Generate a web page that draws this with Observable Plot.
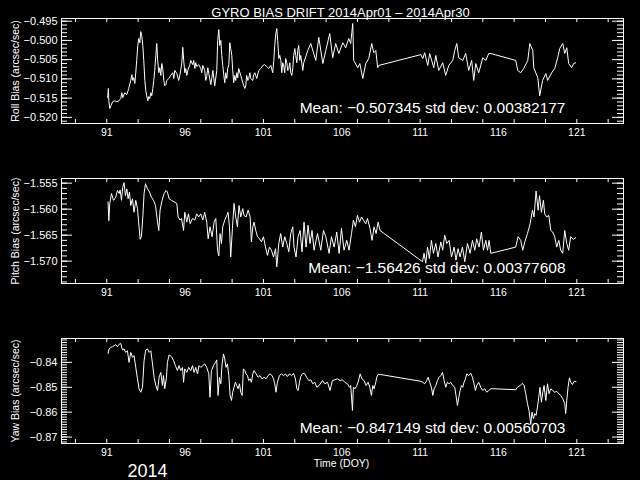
<!DOCTYPE html>
<html>
<head>
<meta charset="utf-8">
<script src="https://cdn.jsdelivr.net/npm/d3@7"></script>
<script src="https://cdn.jsdelivr.net/npm/@observablehq/plot@0.6"></script>
<style>
  html, body { margin: 0; padding: 0; background: #000; }
  #chart { width: 640px; height: 480px; overflow: hidden; }
  #chart svg { display: block; }
</style>
</head>
<body>
<div id="chart"></div>
<script>
// ---------- data ----------
const title = "GYRO BIAS DRIFT 2014Apr01 \u2013 2014Apr30";
const xLabel = "Time (DOY)";
const yearLabel = "2014";
const xTickLabels = [91, 96, 101, 106, 111, 116, 121];
const xTickMarks = [89, 91, 93, 95, 97, 99, 101, 103, 105, 107, 109, 111, 113, 115, 117, 119, 121, 123];
const xDomain = [88.11, 123.98];

const rollLabel = "Roll Bias (arcsec/sec)";
const rollMeanText = "Mean: \u22120.507345 std dev: 0.00382177";
const rollDomain = [-0.5216, -0.4943];
const rollTicks = [-0.520, -0.515, -0.510, -0.505, -0.500, -0.495];
const rollDay = [91.06,91.10,91.13,91.19,91.26,91.38,91.51,91.64,91.77,91.89,91.96,92.02,92.15,92.28,92.40,92.53,92.60,92.66,92.72,92.79,92.85,92.91,92.98,93.04,93.11,93.17,93.23,93.30,93.36,93.43,93.49,93.55,93.62,93.68,93.74,93.81,93.87,93.94,94.00,94.06,94.13,94.19,94.25,94.32,94.38,94.45,94.51,94.57,94.64,94.70,94.77,94.83,94.96,95.08,95.21,95.28,95.34,95.47,95.59,95.66,95.72,95.79,95.85,95.91,95.98,96.04,96.11,96.17,96.30,96.36,96.49,96.55,96.62,96.68,96.74,96.87,97.00,97.06,97.13,97.25,97.32,97.38,97.45,97.51,97.64,97.70,97.77,97.89,98.02,98.08,98.15,98.21,98.28,98.34,98.40,98.47,98.53,98.59,98.66,98.72,98.79,98.85,98.91,98.98,99.04,99.10,99.17,99.23,99.30,99.36,99.42,99.55,99.68,99.81,99.87,99.93,100.00,100.06,100.13,100.19,100.32,100.38,100.45,100.57,100.70,100.83,100.96,101.08,101.21,101.34,101.47,101.59,101.66,101.72,101.79,101.85,101.91,101.98,102.04,102.11,102.17,102.23,102.30,102.36,102.42,102.49,102.55,102.62,102.68,102.74,102.81,102.87,102.93,103.00,103.06,103.13,103.19,103.25,103.32,103.38,103.51,103.57,103.83,104.02,104.34,104.53,104.79,104.98,105.23,105.42,105.61,105.81,106.06,106.25,106.44,106.57,106.70,106.76,107.02,107.15,107.34,107.53,107.72,107.91,108.04,108.17,108.29,108.36,111.04,111.17,111.29,111.49,111.61,111.87,112.00,112.19,112.44,112.63,112.83,113.08,113.21,113.34,113.46,113.72,113.91,114.10,114.29,114.42,114.55,114.74,115.00,115.19,115.38,115.51,117.10,117.23,117.42,117.61,117.87,118.00,118.19,118.25,118.51,118.63,118.82,119.02,119.14,119.40,119.59,119.78,119.91,120.10,120.23,120.36,120.48,120.67,120.80,120.93];
const rollBias = [-0.5149,-0.5125,-0.5157,-0.5177,-0.5170,-0.5159,-0.5157,-0.5159,-0.5157,-0.5151,-0.5136,-0.5149,-0.5136,-0.5141,-0.5125,-0.5104,-0.5089,-0.5104,-0.5097,-0.5112,-0.5084,-0.5052,-0.5013,-0.4995,-0.5006,-0.4977,-0.4987,-0.5013,-0.5052,-0.5104,-0.5131,-0.5144,-0.5157,-0.5146,-0.5151,-0.5136,-0.5144,-0.5125,-0.5104,-0.5078,-0.5039,-0.5008,-0.5052,-0.5084,-0.5071,-0.5091,-0.5060,-0.5073,-0.5104,-0.5118,-0.5115,-0.5104,-0.5099,-0.5091,-0.5084,-0.5099,-0.5078,-0.5086,-0.5104,-0.5091,-0.5078,-0.5058,-0.5018,-0.5052,-0.5084,-0.5073,-0.5091,-0.5078,-0.5063,-0.5052,-0.5063,-0.5052,-0.5073,-0.5058,-0.5068,-0.5063,-0.5073,-0.5084,-0.5065,-0.5078,-0.5104,-0.5094,-0.5071,-0.5086,-0.5115,-0.5099,-0.5078,-0.5118,-0.5078,-0.5000,-0.4972,-0.5013,-0.5000,-0.5039,-0.5065,-0.5091,-0.5110,-0.5084,-0.5099,-0.5073,-0.5063,-0.5006,-0.5021,-0.5039,-0.5078,-0.5110,-0.5091,-0.5104,-0.5084,-0.5097,-0.5073,-0.5091,-0.5110,-0.5125,-0.5118,-0.5091,-0.5104,-0.5099,-0.5084,-0.5099,-0.5104,-0.5089,-0.5084,-0.5099,-0.5078,-0.5073,-0.5065,-0.5063,-0.5068,-0.5073,-0.5065,-0.5084,-0.5052,-0.5013,-0.4982,-0.4969,-0.5000,-0.5047,-0.5039,-0.5052,-0.5084,-0.5058,-0.5068,-0.5084,-0.5047,-0.5058,-0.5078,-0.5073,-0.5058,-0.5084,-0.5091,-0.5073,-0.5039,-0.5021,-0.5039,-0.5058,-0.5026,-0.5013,-0.5052,-0.5039,-0.5078,-0.5058,-0.5026,-0.5008,-0.5052,-0.4992,-0.5060,-0.5026,-0.4982,-0.5045,-0.5008,-0.5034,-0.5006,-0.5019,-0.4995,-0.5008,-0.4956,-0.5052,-0.5071,-0.5060,-0.5099,-0.5060,-0.5047,-0.5008,-0.5032,-0.5026,-0.5071,-0.5065,-0.5037,-0.5047,-0.5032,-0.5065,-0.5034,-0.5071,-0.5039,-0.5078,-0.5058,-0.5091,-0.5065,-0.5052,-0.5026,-0.5008,-0.5045,-0.5052,-0.5034,-0.5078,-0.5052,-0.5104,-0.5060,-0.5084,-0.5045,-0.5052,-0.5034,-0.5034,-0.5052,-0.5078,-0.5084,-0.5073,-0.5052,-0.5008,-0.5026,-0.5071,-0.5097,-0.5144,-0.5104,-0.5086,-0.5104,-0.5084,-0.5073,-0.5045,-0.5021,-0.5008,-0.5034,-0.5019,-0.5060,-0.5071,-0.5060,-0.5058];

const pitchLabel = "Pitch Bias (arcsec/sec)";
const pitchMeanText = "Mean: \u22121.56426 std dev: 0.00377608";
const pitchDomain = [-1.5743, -1.5541];
const pitchTicks = [-1.570, -1.565, -1.560, -1.555];
const pitchDay = [91.08,91.13,91.19,91.30,91.43,91.57,91.68,91.79,91.85,91.94,92.02,92.10,92.19,92.28,92.36,92.45,92.53,92.64,92.74,92.85,92.96,93.06,93.13,93.21,93.30,93.38,93.47,93.60,93.73,93.85,93.98,94.11,94.24,94.32,94.40,94.53,94.66,94.78,94.87,94.98,95.13,95.30,95.47,95.55,95.68,95.77,95.90,95.98,96.11,96.21,96.32,96.47,96.62,96.74,96.87,97.00,97.13,97.25,97.38,97.47,97.59,97.72,97.85,97.96,98.07,98.15,98.23,98.32,98.40,98.53,98.66,98.74,98.83,98.91,99.02,99.12,99.23,99.34,99.44,99.55,99.68,99.76,99.89,100.02,100.15,100.23,100.32,100.40,100.51,100.62,100.75,100.87,101.00,101.13,101.26,101.38,101.51,101.64,101.77,101.85,101.98,102.10,102.23,102.36,102.49,102.62,102.74,102.87,102.95,103.08,103.21,103.34,103.46,103.59,103.72,103.85,103.97,104.10,104.23,104.45,104.66,104.83,104.98,105.19,105.34,105.51,105.68,105.83,105.98,106.14,106.32,106.46,106.62,106.74,106.87,107.00,107.13,107.26,107.38,107.53,107.64,107.80,107.93,108.06,108.19,108.32,108.44,111.15,111.25,111.36,111.47,111.59,111.72,111.85,112.00,112.14,112.32,112.44,112.57,112.70,112.85,113.00,113.17,113.29,113.42,113.55,113.70,113.85,114.02,114.19,114.34,114.49,114.61,114.76,114.91,115.04,115.19,115.30,115.40,115.51,117.10,117.25,117.42,117.55,117.68,117.85,118.02,118.17,118.27,118.40,118.53,118.62,118.74,118.87,118.95,119.08,119.21,119.34,119.46,119.59,119.72,119.85,119.97,120.10,120.23,120.36,120.48,120.61,120.78,120.93];
const pitchBias = [-1.5586,-1.5622,-1.5589,-1.5570,-1.5583,-1.5577,-1.5564,-1.5570,-1.5563,-1.5583,-1.5558,-1.5549,-1.5574,-1.5561,-1.5580,-1.5567,-1.5593,-1.5580,-1.5606,-1.5583,-1.5599,-1.5634,-1.5658,-1.5653,-1.5615,-1.5570,-1.5551,-1.5561,-1.5567,-1.5577,-1.5583,-1.5593,-1.5625,-1.5641,-1.5602,-1.5583,-1.5570,-1.5564,-1.5567,-1.5580,-1.5583,-1.5586,-1.5589,-1.5615,-1.5621,-1.5618,-1.5641,-1.5606,-1.5625,-1.5609,-1.5628,-1.5618,-1.5621,-1.5609,-1.5615,-1.5609,-1.5621,-1.5606,-1.5625,-1.5657,-1.5634,-1.5653,-1.5625,-1.5618,-1.5679,-1.5690,-1.5647,-1.5666,-1.5634,-1.5621,-1.5612,-1.5606,-1.5634,-1.5692,-1.5637,-1.5589,-1.5615,-1.5634,-1.5593,-1.5615,-1.5599,-1.5612,-1.5615,-1.5602,-1.5615,-1.5663,-1.5634,-1.5625,-1.5641,-1.5653,-1.5657,-1.5663,-1.5653,-1.5673,-1.5689,-1.5673,-1.5679,-1.5692,-1.5676,-1.5711,-1.5666,-1.5647,-1.5673,-1.5653,-1.5666,-1.5682,-1.5647,-1.5634,-1.5673,-1.5692,-1.5653,-1.5641,-1.5682,-1.5625,-1.5673,-1.5631,-1.5666,-1.5641,-1.5679,-1.5647,-1.5679,-1.5641,-1.5653,-1.5685,-1.5653,-1.5673,-1.5644,-1.5685,-1.5637,-1.5679,-1.5660,-1.5679,-1.5647,-1.5621,-1.5634,-1.5612,-1.5625,-1.5615,-1.5621,-1.5628,-1.5618,-1.5637,-1.5660,-1.5634,-1.5647,-1.5625,-1.5641,-1.5701,-1.5685,-1.5704,-1.5673,-1.5695,-1.5660,-1.5685,-1.5666,-1.5692,-1.5663,-1.5679,-1.5650,-1.5666,-1.5660,-1.5692,-1.5673,-1.5698,-1.5676,-1.5692,-1.5673,-1.5701,-1.5666,-1.5685,-1.5660,-1.5679,-1.5657,-1.5673,-1.5644,-1.5679,-1.5660,-1.5679,-1.5660,-1.5685,-1.5673,-1.5653,-1.5660,-1.5679,-1.5663,-1.5647,-1.5628,-1.5602,-1.5615,-1.5565,-1.5602,-1.5574,-1.5606,-1.5583,-1.5609,-1.5615,-1.5612,-1.5641,-1.5644,-1.5653,-1.5673,-1.5660,-1.5679,-1.5685,-1.5641,-1.5666,-1.5679,-1.5653,-1.5658,-1.5655];

const yawLabel = "Yaw Bias (arcsec/sec)";
const yawMeanText = "Mean: \u22120.847149 std dev: 0.00560703";
const yawDomain = [-0.8726, -0.8304];
const yawTicks = [-0.87, -0.86, -0.85, -0.84];
const yawDay = [91.08,91.15,91.26,91.36,91.47,91.57,91.68,91.79,91.89,92.00,92.10,92.21,92.32,92.42,92.53,92.64,92.74,92.85,92.96,93.06,93.17,93.28,93.38,93.49,93.60,93.70,93.81,93.92,94.02,94.13,94.24,94.34,94.45,94.55,94.62,94.70,94.81,94.87,94.98,95.13,95.26,95.38,95.51,95.61,95.72,95.83,95.90,95.98,96.11,96.23,96.36,96.47,96.57,96.68,96.79,96.89,97.00,97.13,97.25,97.38,97.51,97.59,97.68,97.81,97.94,98.02,98.10,98.19,98.28,98.36,98.45,98.53,98.61,98.70,98.79,98.87,98.96,99.04,99.12,99.21,99.30,99.38,99.47,99.55,99.64,99.72,99.81,99.89,99.98,100.06,100.15,100.23,100.32,100.40,100.53,100.66,100.78,100.91,101.04,101.17,101.29,101.42,101.55,101.64,101.72,101.80,101.89,102.02,102.15,102.28,102.40,102.53,102.66,102.79,102.92,103.04,103.13,103.21,103.30,103.38,103.51,103.64,103.76,103.89,104.02,104.15,104.28,104.40,104.55,104.77,104.91,105.09,105.25,105.40,105.55,105.72,105.89,106.04,106.19,106.36,106.49,106.57,106.68,106.74,106.85,106.96,107.04,107.17,107.29,107.42,107.55,107.68,107.79,107.89,107.98,108.06,108.17,108.23,108.31,108.49,111.04,111.17,111.29,111.42,111.51,111.61,111.72,111.81,111.89,112.00,112.11,112.21,112.32,112.43,112.53,112.64,112.74,112.85,112.95,113.08,113.21,113.29,113.38,113.47,113.55,113.64,113.72,113.80,113.89,113.98,114.10,114.23,114.34,114.44,114.53,114.61,114.74,114.87,115.00,115.12,115.25,115.38,115.51,115.72,117.10,117.21,117.38,117.53,117.64,117.74,117.85,117.95,118.06,118.14,118.23,118.32,118.40,118.49,118.57,118.65,118.74,118.83,118.91,119.02,119.13,119.23,119.34,119.46,119.59,119.72,119.85,119.97,120.10,120.23,120.29,120.36,120.44,120.53,120.61,120.72,120.83,120.95];
const yawBias = [-0.8364,-0.8346,-0.8340,-0.8337,-0.8333,-0.8329,-0.8337,-0.8327,-0.8324,-0.8350,-0.8346,-0.8360,-0.8353,-0.8400,-0.8360,-0.8380,-0.8373,-0.8420,-0.8466,-0.8506,-0.8520,-0.8500,-0.8393,-0.8350,-0.8346,-0.8360,-0.8353,-0.8406,-0.8460,-0.8493,-0.8513,-0.8460,-0.8440,-0.8493,-0.8453,-0.8506,-0.8460,-0.8400,-0.8370,-0.8377,-0.8393,-0.8413,-0.8433,-0.8413,-0.8433,-0.8420,-0.8480,-0.8426,-0.8440,-0.8420,-0.8433,-0.8413,-0.8440,-0.8420,-0.8446,-0.8413,-0.8420,-0.8413,-0.8406,-0.8420,-0.8446,-0.8540,-0.8433,-0.8413,-0.8400,-0.8390,-0.8533,-0.8460,-0.8486,-0.8406,-0.8366,-0.8386,-0.8420,-0.8406,-0.8453,-0.8533,-0.8553,-0.8520,-0.8500,-0.8480,-0.8493,-0.8506,-0.8486,-0.8520,-0.8533,-0.8426,-0.8433,-0.8446,-0.8453,-0.8473,-0.8466,-0.8480,-0.8446,-0.8433,-0.8446,-0.8460,-0.8453,-0.8466,-0.8460,-0.8466,-0.8453,-0.8446,-0.8453,-0.8466,-0.8486,-0.8520,-0.8480,-0.8453,-0.8446,-0.8453,-0.8446,-0.8457,-0.8446,-0.8453,-0.8444,-0.8466,-0.8506,-0.8513,-0.8480,-0.8457,-0.8444,-0.8446,-0.8460,-0.8473,-0.8470,-0.8486,-0.8480,-0.8500,-0.8493,-0.8473,-0.8486,-0.8480,-0.8513,-0.8473,-0.8470,-0.8466,-0.8473,-0.8470,-0.8480,-0.8486,-0.8500,-0.8493,-0.8593,-0.8500,-0.8506,-0.8493,-0.8480,-0.8446,-0.8466,-0.8473,-0.8493,-0.8480,-0.8500,-0.8533,-0.8493,-0.8506,-0.8480,-0.8460,-0.8449,-0.8449,-0.8476,-0.8480,-0.8486,-0.8473,-0.8460,-0.8480,-0.8500,-0.8533,-0.8506,-0.8493,-0.8473,-0.8460,-0.8453,-0.8440,-0.8473,-0.8500,-0.8480,-0.8486,-0.8480,-0.8493,-0.8500,-0.8533,-0.8573,-0.8540,-0.8513,-0.8493,-0.8500,-0.8480,-0.8466,-0.8446,-0.8453,-0.8444,-0.8460,-0.8486,-0.8513,-0.8493,-0.8480,-0.8500,-0.8513,-0.8506,-0.8520,-0.8513,-0.8506,-0.8506,-0.8510,-0.8500,-0.8493,-0.8484,-0.8493,-0.8526,-0.8566,-0.8593,-0.8649,-0.8600,-0.8626,-0.8606,-0.8613,-0.8580,-0.8540,-0.8500,-0.8560,-0.8520,-0.8493,-0.8553,-0.8486,-0.8526,-0.8506,-0.8513,-0.8520,-0.8516,-0.8526,-0.8533,-0.8546,-0.8566,-0.8606,-0.8553,-0.8500,-0.8462,-0.8480,-0.8489,-0.8476,-0.8477];

// ---------- drawing ----------
const FONT = "'Liberation Sans', Arial, sans-serif";
const W = 640, H = 160, ML = 61, MR = 17, MT = 18, MB = 37;
const FW = W - ML - MR, FH = H - MT - MB;

function minorTicks(domain, step) {
  const lo = Math.ceil(domain[0] / step - 1e-9), hi = Math.floor(domain[1] / step + 1e-9);
  return d3.range(lo, hi + 1).map(i => i * step);
}

function panel({days, vals, yDomain, majors, fmt, minorStep, label, meanText, extra = []}) {
  const data = days.map((d, i) => ({day: d, v: vals[i]}));
  const minors = minorTicks(yDomain, minorStep);
  return Plot.plot({
    width: W, height: H,
    marginLeft: ML, marginRight: MR, marginTop: MT, marginBottom: MB,
    style: {background: "#000", color: "#fff", fontFamily: FONT, fontSize: "10.5px", overflow: "visible"},
    x: {domain: xDomain},
    y: {domain: yDomain},
    marks: [
      Plot.ruleY(minors, {insetRight: FW - 6, stroke: "#fff"}),
      Plot.ruleY(minors, {insetLeft: FW - 6, stroke: "#fff"}),
      Plot.ruleY(majors, {insetRight: FW - 11, stroke: "#fff"}),
      Plot.ruleY(majors, {insetLeft: FW - 11, stroke: "#fff"}),
      Plot.ruleX(xTickMarks, {insetBottom: FH - 4, stroke: "#fff"}),
      Plot.ruleX(xTickMarks, {insetTop: FH - 4, stroke: "#fff"}),
      Plot.axisY(majors, {anchor: "left", tickSize: 0, tickPadding: 4, tickFormat: fmt, label: null, fontSize: 11}),
      Plot.axisX(xTickLabels, {anchor: "bottom", tickSize: 0, tickPadding: 5, tickFormat: d => String(d), label: null, fontSize: 10.5}),
      Plot.text([label], {frameAnchor: "left", textAnchor: "middle", rotate: -90, dx: -46, fontSize: 10.5, fill: "#fff"}),
      Plot.line(data, {x: "day", y: "v", stroke: "#fff", strokeWidth: 1}),
      Plot.text([meanText], {frameAnchor: "bottom-right", dx: -58, dy: -11, textAnchor: "end", fontSize: 15.5, fill: "#fff"}),
      Plot.frame({stroke: "#fff"}),
      ...extra
    ]
  });
}

const chart = document.getElementById("chart");
chart.appendChild(panel({
  days: rollDay, vals: rollBias, yDomain: rollDomain, majors: rollTicks,
  fmt: d3.format(".3f"), minorStep: 0.001, label: rollLabel, meanText: rollMeanText,
  extra: [Plot.text([title], {frameAnchor: "top", dx: -2, dy: -11, fontSize: 13, fill: "#fff"})]
}));
chart.appendChild(panel({
  days: pitchDay, vals: pitchBias, yDomain: pitchDomain, majors: pitchTicks,
  fmt: d3.format(".3f"), minorStep: 0.001, label: pitchLabel, meanText: pitchMeanText
}));
chart.appendChild(panel({
  days: yawDay, vals: yawBias, yDomain: yawDomain, majors: yawTicks,
  fmt: d3.format(".2f"), minorStep: 0.001, label: yawLabel, meanText: yawMeanText,
  extra: [
    Plot.text([xLabel], {frameAnchor: "bottom", dx: -1, dy: 23, fontSize: 10.5, fill: "#fff"}),
    Plot.text([yearLabel], {frameAnchor: "bottom-left", dx: 66, dy: 33, fontSize: 18, fill: "#fff"})
  ]
}));
</script>
</body>
</html>
